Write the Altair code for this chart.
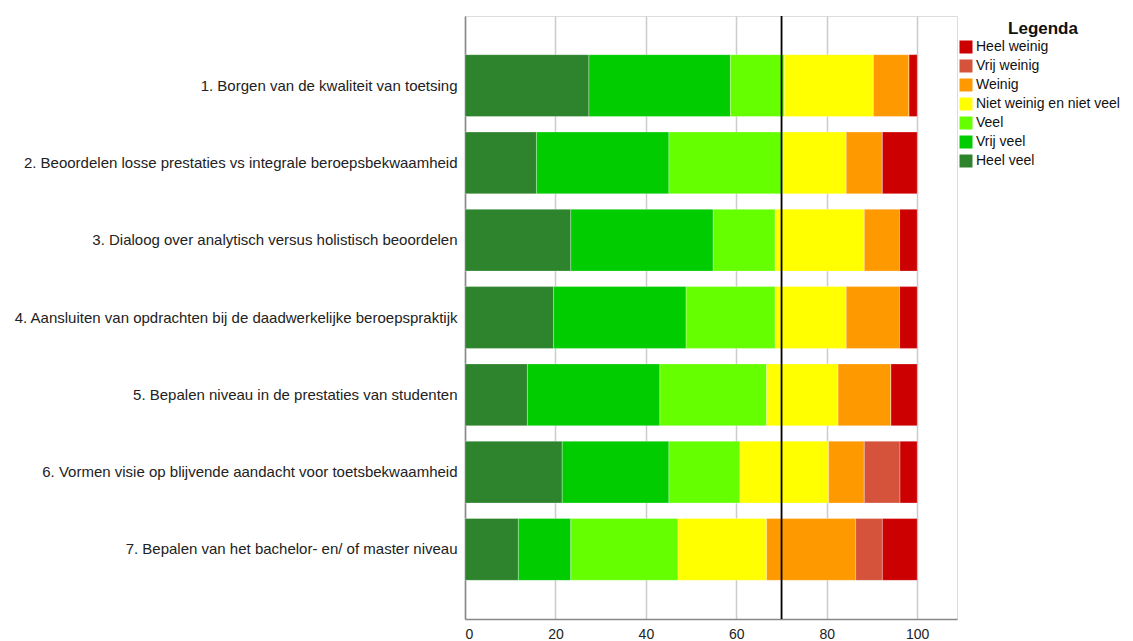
import altair as alt
import pandas as pd

categories = [
    "1. Borgen van de kwaliteit van toetsing",
    "2. Beoordelen losse prestaties vs integrale beroepsbekwaamheid",
    "3. Dialoog over analytisch versus holistisch beoordelen",
    "4. Aansluiten van opdrachten bij de daadwerkelijke beroepspraktijk",
    "5. Bepalen niveau in de prestaties van studenten",
    "6. Vormen visie op blijvende aandacht voor toetsbekwaamheid",
    "7. Bepalen van het bachelor- en/ of master niveau",
]

# stacking order, left to right
levels = ["Heel veel", "Vrij veel", "Veel", "Niet weinig en niet veel",
          "Weinig", "Vrij weinig", "Heel weinig"]

heel_veel   = [27.4, 15.8, 23.4, 19.6, 13.8, 21.5, 11.8]
vrij_veel   = [31.3, 29.3, 31.5, 29.3, 29.3, 23.6, 11.6]
veel        = [11.9, 25.1, 13.7, 19.7, 23.6, 15.7, 23.7]
niet        = [19.7, 14.1, 19.7, 15.7, 15.8, 19.6, 19.6]
weinig      = [7.9, 8.0, 7.8, 11.8, 11.7, 7.9, 19.7]
vrij_weinig = [0.0, 0.0, 0.0, 0.0, 0.0, 7.9, 5.9]
heel_weinig = [1.8, 7.7, 3.9, 3.9, 5.8, 3.8, 7.7]

series = [heel_veel, vrij_veel, veel, niet, weinig, vrij_weinig, heel_weinig]

legend_order = ["Heel weinig", "Vrij weinig", "Weinig", "Niet weinig en niet veel",
                "Veel", "Vrij veel", "Heel veel"]
legend_colors = ["#CC0000", "#D4533A", "#FF9900", "#FFFF00",
                 "#66FF00", "#00CC00", "#2D842D"]

x_ticks = [0, 20, 40, 60, 80, 100]
ref_value = 70
legend_title = "Legenda"

rows = []
for li, (lvl, vals) in enumerate(zip(levels, series)):
    for cat, v in zip(categories, vals):
        rows.append({"cat": cat, "level": lvl, "value": v, "ord": li})
df = pd.DataFrame(rows)

FONT = "Liberation Sans"

bars = alt.Chart(df).mark_bar(stroke="#ffffff", strokeWidth=0.6, strokeOpacity=0.5).encode(
    y=alt.Y("cat:N", sort=categories,
            scale=alt.Scale(paddingInner=0.2, paddingOuter=0.5),
            axis=alt.Axis(title=None, ticks=False, labelPadding=8, labelFontSize=15,
                          labelColor="#222222", labelFont=FONT, labelLimit=600,
                          minExtent=452, maxExtent=452, domainColor="#888888",
                          domainWidth=1.5, grid=False)),
    x=alt.X("value:Q", stack="zero",
            scale=alt.Scale(domain=[0, 108.8], nice=False),
            axis=alt.Axis(title=None, values=x_ticks, ticks=False, labelPadding=8,
                          labelFontSize=14, labelColor="#222222", labelFont=FONT,
                          grid=True, gridColor="#cccccc", gridWidth=1.5,
                          domainColor="#888888", domainWidth=1.5)),
    color=alt.Color("level:N",
                    scale=alt.Scale(domain=legend_order, range=legend_colors),
                    legend=alt.Legend(title=None, orient="none", legendX=494, legendY=24,
                                      symbolType="square", symbolSize=169,
                                      symbolStrokeWidth=0, labelFontSize=14,
                                      labelFont=FONT, labelColor="#111111",
                                      labelOffset=3, rowPadding=5, padding=0,
                                      labelLimit=300)),
    order=alt.Order("ord:Q"),
)

rule = alt.Chart(pd.DataFrame({"x": [ref_value]})).mark_rule(
    color="#000000", strokeWidth=1.8).encode(x="x:Q")

title_txt = alt.Chart(pd.DataFrame({"t": [legend_title]})).mark_text(
    fontSize=17, fontWeight="bold", font=FONT, color="#111111", align="center",
    baseline="middle").encode(text="t:N", x=alt.value(578), y=alt.value(13))

chart = alt.layer(bars, rule, title_txt).properties(
    width=492, height=603,
    padding={"left": 5, "top": 7, "right": 0, "bottom": 0},
).configure_view(stroke=None).configure(font=FONT)

chart.save("out.html", embed_options={"renderer": "svg", "actions": False})
